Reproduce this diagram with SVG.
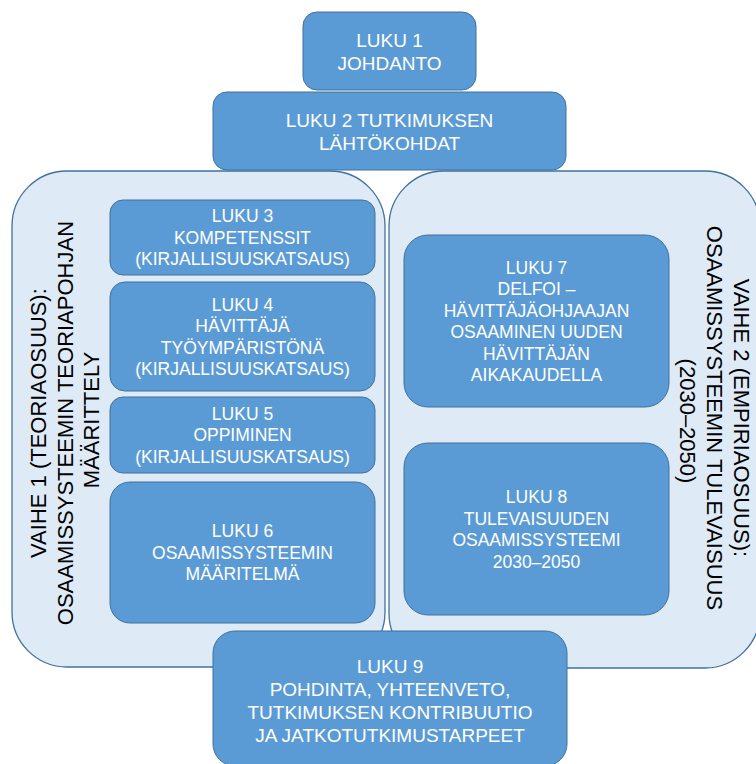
<svg xmlns="http://www.w3.org/2000/svg" width="756" height="764" viewBox="0 0 756 764">
  <style>
    .phase { fill: #DEEAF6; stroke: #41719C; stroke-width: 1.3; }
    .box { fill: #5B9BD5; stroke: #41719C; stroke-width: 1; }
    .lbl { font-family: "Liberation Sans", Arial, sans-serif; fill: #FFFFFF; text-anchor: middle; }
    .big { font-size: 19px; }
    .sm { font-size: 17.5px; }
    .vt { font-family: "Liberation Sans", Arial, sans-serif; font-size: 22px; fill: #000000; text-anchor: middle; }
  </style>

  <rect width="756" height="764" fill="#FFFFFF"/>

  <!-- phase containers -->
  <g id="phase1">
    <rect class="phase" x="12" y="171" width="373" height="496" rx="55" ry="55"/>
    <text class="vt" transform="translate(46,420) rotate(-90)">
      <tspan x="0" y="0">VAIHE 1 (TEORIAOSUUS):</tspan>
      <tspan x="0" y="26.5">OSAAMISSYSTEEMIN TEORIAPOHJAN</tspan>
      <tspan x="0" y="53">MÄÄRITTELY</tspan>
    </text>
  </g>

  <g id="phase2">
    <rect class="phase" x="389" y="171" width="371" height="497" rx="55" ry="55"/>
    <text class="vt" transform="translate(734,421) rotate(90)">
      <tspan x="0" y="0">VAIHE 2 (EMPIRIAOSUUS):</tspan>
      <tspan x="0" y="27">OSAAMISSYSTEEMIN TULEVAISUUS</tspan>
      <tspan x="0" y="54">(2030–2050)</tspan>
    </text>
  </g>

  <!-- chapter boxes -->
  <g id="luku1">
    <rect class="box" x="303" y="12" width="173" height="78" rx="14"/>
    <text class="lbl big"><tspan x="389.5" y="47">LUKU 1</tspan><tspan x="389.5" y="70">JOHDANTO</tspan></text>
  </g>

  <g id="luku2">
    <rect class="box" x="213" y="92" width="353" height="78" rx="14"/>
    <text class="lbl big"><tspan x="389.5" y="127">LUKU 2 TUTKIMUKSEN</tspan><tspan x="389.5" y="150">LÄHTÖKOHDAT</tspan></text>
  </g>

  <g id="luku3">
    <rect class="box" x="110" y="200" width="265" height="75" rx="13"/>
    <text class="lbl sm"><tspan x="242.5" y="222.3">LUKU 3</tspan><tspan x="242.5" y="243.8">KOMPETENSSIT</tspan><tspan x="242.5" y="265.3">(KIRJALLISUUSKATSAUS)</tspan></text>
  </g>

  <g id="luku4">
    <rect class="box" x="110" y="282" width="265" height="109" rx="15"/>
    <text class="lbl sm"><tspan x="242.5" y="310.5">LUKU 4</tspan><tspan x="242.5" y="332">HÄVITTÄJÄ</tspan><tspan x="242.5" y="353.5">TYÖYMPÄRISTÖNÄ</tspan><tspan x="242.5" y="375">(KIRJALLISUUSKATSAUS)</tspan></text>
  </g>

  <g id="luku5">
    <rect class="box" x="110" y="397" width="265" height="76" rx="13"/>
    <text class="lbl sm"><tspan x="242.5" y="419.8">LUKU 5</tspan><tspan x="242.5" y="441.3">OPPIMINEN</tspan><tspan x="242.5" y="462.8">(KIRJALLISUUSKATSAUS)</tspan></text>
  </g>

  <g id="luku6">
    <rect class="box" x="110" y="482" width="265" height="141" rx="20"/>
    <text class="lbl sm"><tspan x="242.5" y="537.3">LUKU 6</tspan><tspan x="242.5" y="558.8">OSAAMISSYSTEEMIN</tspan><tspan x="242.5" y="580.3">MÄÄRITELMÄ</tspan></text>
  </g>

  <g id="luku7">
    <rect class="box" x="404" y="235" width="265" height="172" rx="24"/>
    <text class="lbl sm"><tspan x="536.5" y="273.6">LUKU 7</tspan><tspan x="536.5" y="295.1">DELFOI –</tspan><tspan x="536.5" y="316.6">HÄVITTÄJÄOHJAAJAN</tspan><tspan x="536.5" y="338.1">OSAAMINEN UUDEN</tspan><tspan x="536.5" y="359.6">HÄVITTÄJÄN</tspan><tspan x="536.5" y="381.1">AIKAKAUDELLA</tspan></text>
  </g>

  <g id="luku8">
    <rect class="box" x="404" y="443" width="265" height="172" rx="24"/>
    <text class="lbl sm"><tspan x="536.5" y="503">LUKU 8</tspan><tspan x="536.5" y="524.5">TULEVAISUUDEN</tspan><tspan x="536.5" y="546">OSAAMISSYSTEEMI</tspan><tspan x="536.5" y="567.5">2030–2050</tspan></text>
  </g>

  <g id="luku9">
    <rect class="box" x="213" y="631" width="354" height="135" rx="22"/>
    <text class="lbl big"><tspan x="390" y="673">LUKU 9</tspan><tspan x="390" y="696">POHDINTA, YHTEENVETO,</tspan><tspan x="390" y="719">TUTKIMUKSEN KONTRIBUUTIO</tspan><tspan x="390" y="742">JA JATKOTUTKIMUSTARPEET</tspan></text>
  </g>

  <g id="connectors"/>
</svg>
